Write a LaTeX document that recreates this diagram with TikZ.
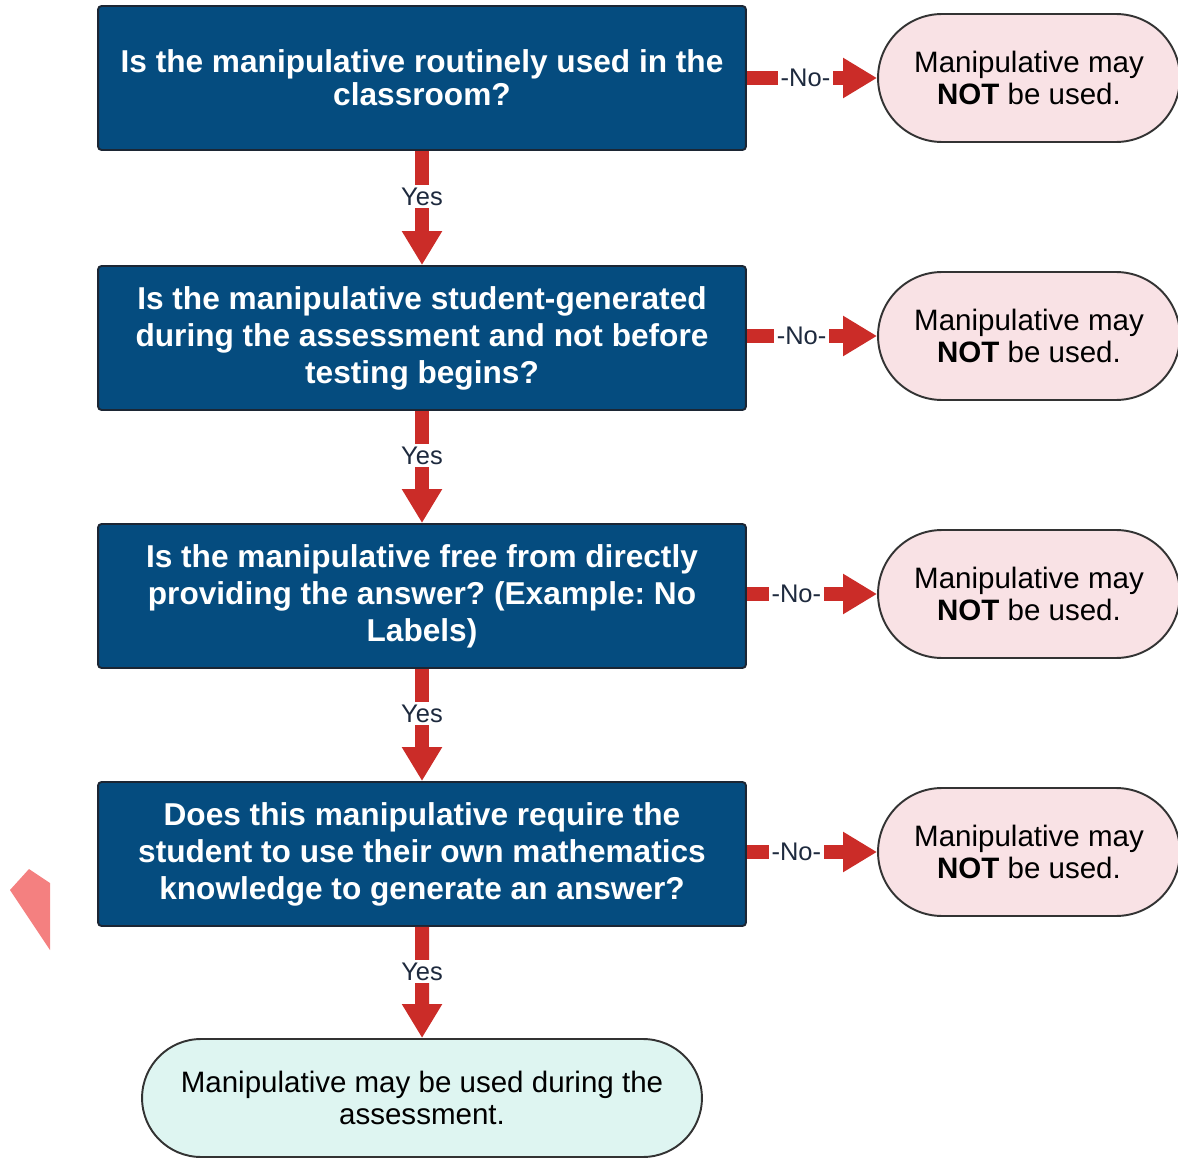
\documentclass[tikz,border=0pt]{standalone}
\usepackage{fontspec}
\setmainfont{Liberation Sans}
\usetikzlibrary{arrows.meta}
\usetikzlibrary{shapes.misc}
\frenchspacing

\definecolor{qblue}{RGB}{5,76,127}
\definecolor{qedge}{RGB}{28,38,52}
\definecolor{flowred}{RGB}{203,44,40}
\definecolor{nopink}{RGB}{249,226,229}
\definecolor{yesmint}{RGB}{222,245,241}
\definecolor{labelink}{RGB}{30,42,62}
\definecolor{shard}{RGB}{244,128,128}

\begin{document}
\begin{tikzpicture}[x=0.02cm,y=-0.02cm,
  question/.style={draw=qedge, fill=qblue, line width=1.1pt, rounded corners=2pt, minimum width=12.96cm, minimum height=2.88cm, inner sep=0pt, align=center, text=white, font=\bfseries\fontsize{18}{21}\selectfont},
  stopend/.style={draw=black!80, fill=nopink, line width=1.1pt, rounded rectangle, minimum width=6.04cm, minimum height=2.56cm, inner sep=0pt, align=center, font=\fontsize{16.8}{18.2}\selectfont},
  goend/.style={stopend, fill=yesmint, minimum width=11.2cm, minimum height=2.36cm},
  flow/.style={draw=flowred, line width=0.28cm, -{Triangle[width=0.76cm,length=0.68cm]}},
  flowlabel/.style={fill=white, text=labelink, inner sep=1.5pt, font=\fontsize{14.5}{16}\selectfont}]
\useasboundingbox (0,0) rectangle (1178,1159);
% stray mark at the left
\fill[shard] (10,890) -- (29,869) -- (50,883) -- (50,950) -- cycle;
% questions
\node[question] (q1) at (422,78) {Is the manipulative routinely used in the\\[-2pt]classroom?};
\node[question] (q2) at (422,338) {Is the manipulative student-generated\\during the assessment and not before\\testing begins?};
\node[question] (q3) at (422,596) {Is the manipulative free from directly\\providing the answer? (Example: No\\Labels)};
\node[question] (q4) at (422,854) {Does this manipulative require the\\student to use their own mathematics\\knowledge to generate an answer?};
% answers
\node[stopend] (n1) at (1029,78) {Manipulative may\\\textbf{NOT} be used.};
\node[stopend] (n2) at (1029,336) {Manipulative may\\\textbf{NOT} be used.};
\node[stopend] (n3) at (1029,594) {Manipulative may\\\textbf{NOT} be used.};
\node[stopend] (n4) at (1029,852) {Manipulative may\\\textbf{NOT} be used.};
\node[goend] (done) at (422,1098) {Manipulative may be used during the\\assessment.};
% yes arrows
\draw[flow] (q1) -- node[flowlabel, pos=0.4] {Yes} (q2);
\draw[flow] (q2) -- node[flowlabel, pos=0.4] {Yes} (q3);
\draw[flow] (q3) -- node[flowlabel, pos=0.4] {Yes} (q4);
\draw[flow] (q4) -- node[flowlabel, pos=0.4] {Yes} (done);
% no arrows
\draw[flow] (q1.east |- n1) -- node[flowlabel, pos=0.45] {-No-} (n1);
\draw[flow] (q2.east |- n2) -- node[flowlabel, pos=0.42] {-No-} (n2);
\draw[flow] (q3.east |- n3) -- node[flowlabel, pos=0.38] {-No-} (n3);
\draw[flow] (q4.east |- n4) -- node[flowlabel, pos=0.38] {-No-} (n4);
\end{tikzpicture}
\end{document}
